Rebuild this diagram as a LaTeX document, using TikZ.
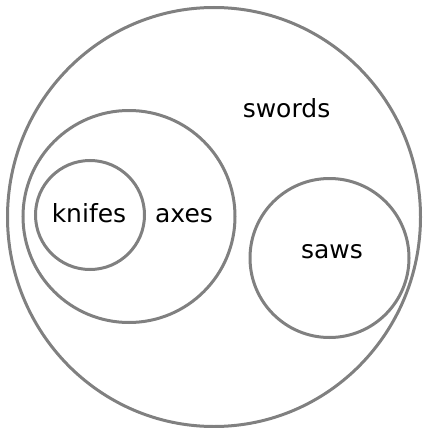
\documentclass[tikz,border=0pt]{standalone}
\usepackage{fontspec}
\setmainfont{DejaVu Sans}
\usepackage{tikz}

\tikzset{
    setline/.style={draw=black!50, line width=3pt},
    setname/.style={font=\fontsize{25}{30}\selectfont, anchor=base, inner sep=0pt}
}

\begin{document}
\begin{tikzpicture}[x=1pt, y=-1pt]
    \useasboundingbox (0, 0) rectangle (425, 428);

    % Sets
    \draw[setline] (214, 217) ellipse (206.5 and 209.5);
    \draw[setline] (129, 216.5) circle (106);
    \draw[setline] (90, 215) circle (54.5);
    \draw[setline] (329.5, 258) circle (79.5);

    % Names
    \node[setname] (swords) at (286.5, 117) {swords};
    \node[setname] (axes) at (184, 222) {axes};
    \node[setname] (knifes) at (89, 222) {knifes};
    \node[setname] (saws) at (332, 258) {saws};
\end{tikzpicture}
\end{document}
